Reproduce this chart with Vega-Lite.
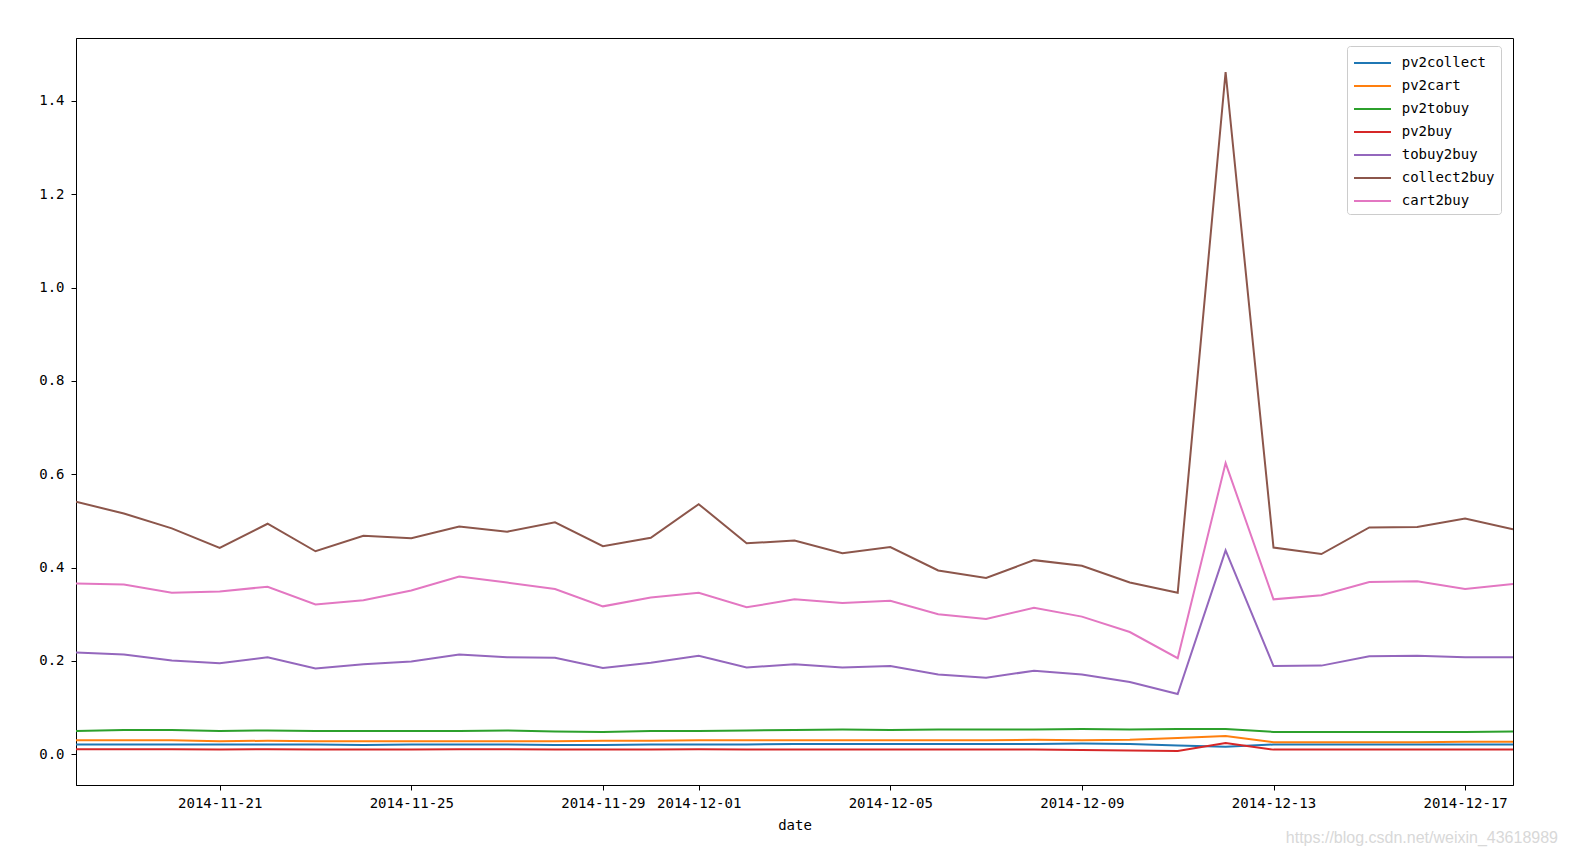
{
  "$schema": "https://vega.github.io/schema/vega-lite/v6.json",
  "width": 1437,
  "height": 747,
  "autosize": {"type": "none"},
  "padding": {"left": 76, "top": 38, "right": 65, "bottom": 71},
  "background": "white",
  "config": {
    "view": {"stroke": "#000000", "strokeWidth": 1},
    "font": "DejaVu Sans Mono"
  },
  "title": {
    "text": "https://blog.csdn.net/weixin_43618989",
    "orient": "bottom",
    "anchor": "end",
    "color": "#d8d8d8",
    "font": "Liberation Sans",
    "fontSize": 16,
    "fontWeight": "normal",
    "offset": -2,
    "dx": 45
  },
  "data": {
    "values": [
      {"date": "2014-11-18", "pv2collect": 0.021, "pv2cart": 0.030, "pv2tobuy": 0.050, "pv2buy": 0.011, "tobuy2buy": 0.218, "collect2buy": 0.541, "cart2buy": 0.366},
      {"date": "2014-11-19", "pv2collect": 0.021, "pv2cart": 0.030, "pv2tobuy": 0.052, "pv2buy": 0.011, "tobuy2buy": 0.214, "collect2buy": 0.516, "cart2buy": 0.364},
      {"date": "2014-11-20", "pv2collect": 0.021, "pv2cart": 0.030, "pv2tobuy": 0.052, "pv2buy": 0.011, "tobuy2buy": 0.201, "collect2buy": 0.484, "cart2buy": 0.346},
      {"date": "2014-11-21", "pv2collect": 0.021, "pv2cart": 0.028, "pv2tobuy": 0.050, "pv2buy": 0.010, "tobuy2buy": 0.195, "collect2buy": 0.442, "cart2buy": 0.349},
      {"date": "2014-11-22", "pv2collect": 0.021, "pv2cart": 0.029, "pv2tobuy": 0.051, "pv2buy": 0.011, "tobuy2buy": 0.208, "collect2buy": 0.494, "cart2buy": 0.359},
      {"date": "2014-11-23", "pv2collect": 0.021, "pv2cart": 0.028, "pv2tobuy": 0.050, "pv2buy": 0.010, "tobuy2buy": 0.184, "collect2buy": 0.435, "cart2buy": 0.321},
      {"date": "2014-11-24", "pv2collect": 0.020, "pv2cart": 0.028, "pv2tobuy": 0.050, "pv2buy": 0.010, "tobuy2buy": 0.193, "collect2buy": 0.468, "cart2buy": 0.330},
      {"date": "2014-11-25", "pv2collect": 0.021, "pv2cart": 0.028, "pv2tobuy": 0.050, "pv2buy": 0.010, "tobuy2buy": 0.199, "collect2buy": 0.463, "cart2buy": 0.351},
      {"date": "2014-11-26", "pv2collect": 0.021, "pv2cart": 0.028, "pv2tobuy": 0.050, "pv2buy": 0.011, "tobuy2buy": 0.214, "collect2buy": 0.488, "cart2buy": 0.381},
      {"date": "2014-11-27", "pv2collect": 0.021, "pv2cart": 0.028, "pv2tobuy": 0.051, "pv2buy": 0.011, "tobuy2buy": 0.208, "collect2buy": 0.477, "cart2buy": 0.368},
      {"date": "2014-11-28", "pv2collect": 0.020, "pv2cart": 0.028, "pv2tobuy": 0.049, "pv2buy": 0.010, "tobuy2buy": 0.207, "collect2buy": 0.497, "cart2buy": 0.354},
      {"date": "2014-11-29", "pv2collect": 0.020, "pv2cart": 0.029, "pv2tobuy": 0.048, "pv2buy": 0.010, "tobuy2buy": 0.185, "collect2buy": 0.446, "cart2buy": 0.317},
      {"date": "2014-11-30", "pv2collect": 0.021, "pv2cart": 0.029, "pv2tobuy": 0.050, "pv2buy": 0.010, "tobuy2buy": 0.196, "collect2buy": 0.464, "cart2buy": 0.336},
      {"date": "2014-12-01", "pv2collect": 0.021, "pv2cart": 0.030, "pv2tobuy": 0.050, "pv2buy": 0.011, "tobuy2buy": 0.211, "collect2buy": 0.536, "cart2buy": 0.346},
      {"date": "2014-12-02", "pv2collect": 0.021, "pv2cart": 0.030, "pv2tobuy": 0.051, "pv2buy": 0.010, "tobuy2buy": 0.186, "collect2buy": 0.452, "cart2buy": 0.315},
      {"date": "2014-12-03", "pv2collect": 0.022, "pv2cart": 0.030, "pv2tobuy": 0.052, "pv2buy": 0.010, "tobuy2buy": 0.193, "collect2buy": 0.458, "cart2buy": 0.332},
      {"date": "2014-12-04", "pv2collect": 0.022, "pv2cart": 0.030, "pv2tobuy": 0.053, "pv2buy": 0.010, "tobuy2buy": 0.186, "collect2buy": 0.431, "cart2buy": 0.324},
      {"date": "2014-12-05", "pv2collect": 0.022, "pv2cart": 0.030, "pv2tobuy": 0.052, "pv2buy": 0.010, "tobuy2buy": 0.189, "collect2buy": 0.444, "cart2buy": 0.329},
      {"date": "2014-12-06", "pv2collect": 0.022, "pv2cart": 0.030, "pv2tobuy": 0.053, "pv2buy": 0.010, "tobuy2buy": 0.171, "collect2buy": 0.394, "cart2buy": 0.300},
      {"date": "2014-12-07", "pv2collect": 0.022, "pv2cart": 0.030, "pv2tobuy": 0.053, "pv2buy": 0.010, "tobuy2buy": 0.164, "collect2buy": 0.378, "cart2buy": 0.290},
      {"date": "2014-12-08", "pv2collect": 0.022, "pv2cart": 0.031, "pv2tobuy": 0.053, "pv2buy": 0.010, "tobuy2buy": 0.179, "collect2buy": 0.416, "cart2buy": 0.314},
      {"date": "2014-12-09", "pv2collect": 0.023, "pv2cart": 0.030, "pv2tobuy": 0.054, "pv2buy": 0.009, "tobuy2buy": 0.171, "collect2buy": 0.404, "cart2buy": 0.295},
      {"date": "2014-12-10", "pv2collect": 0.022, "pv2cart": 0.031, "pv2tobuy": 0.053, "pv2buy": 0.008, "tobuy2buy": 0.155, "collect2buy": 0.368, "cart2buy": 0.262},
      {"date": "2014-12-11", "pv2collect": 0.019, "pv2cart": 0.035, "pv2tobuy": 0.054, "pv2buy": 0.007, "tobuy2buy": 0.129, "collect2buy": 0.346, "cart2buy": 0.206},
      {"date": "2014-12-12", "pv2collect": 0.016, "pv2cart": 0.039, "pv2tobuy": 0.054, "pv2buy": 0.024, "tobuy2buy": 0.437, "collect2buy": 1.462, "cart2buy": 0.624},
      {"date": "2014-12-13", "pv2collect": 0.021, "pv2cart": 0.026, "pv2tobuy": 0.048, "pv2buy": 0.010, "tobuy2buy": 0.189, "collect2buy": 0.443, "cart2buy": 0.332},
      {"date": "2014-12-14", "pv2collect": 0.021, "pv2cart": 0.026, "pv2tobuy": 0.048, "pv2buy": 0.010, "tobuy2buy": 0.190, "collect2buy": 0.429, "cart2buy": 0.341},
      {"date": "2014-12-15", "pv2collect": 0.021, "pv2cart": 0.026, "pv2tobuy": 0.048, "pv2buy": 0.010, "tobuy2buy": 0.210, "collect2buy": 0.486, "cart2buy": 0.369},
      {"date": "2014-12-16", "pv2collect": 0.021, "pv2cart": 0.026, "pv2tobuy": 0.048, "pv2buy": 0.010, "tobuy2buy": 0.211, "collect2buy": 0.487, "cart2buy": 0.371},
      {"date": "2014-12-17", "pv2collect": 0.021, "pv2cart": 0.027, "pv2tobuy": 0.048, "pv2buy": 0.010, "tobuy2buy": 0.208, "collect2buy": 0.505, "cart2buy": 0.354},
      {"date": "2014-12-18", "pv2collect": 0.021, "pv2cart": 0.027, "pv2tobuy": 0.049, "pv2buy": 0.010, "tobuy2buy": 0.208, "collect2buy": 0.482, "cart2buy": 0.365}
    ]
  },
  "transform": [
    {"fold": ["pv2collect", "pv2cart", "pv2tobuy", "pv2buy", "tobuy2buy", "collect2buy", "cart2buy"], "as": ["series", "value"]}
  ],
  "mark": {"type": "line", "strokeWidth": 2, "clip": true},
  "encoding": {
    "x": {
      "field": "date",
      "type": "temporal",
      "scale": {
        "type": "utc",
        "domain": [
          {"year": 2014, "month": 11, "date": 18, "utc": true},
          {"year": 2014, "month": 12, "date": 18, "utc": true}
        ]
      },
      "axis": {
        "values": [
          {"year": 2014, "month": 11, "date": 21, "utc": true},
          {"year": 2014, "month": 11, "date": 25, "utc": true},
          {"year": 2014, "month": 11, "date": 29, "utc": true},
          {"year": 2014, "month": 12, "date": 1, "utc": true},
          {"year": 2014, "month": 12, "date": 5, "utc": true},
          {"year": 2014, "month": 12, "date": 9, "utc": true},
          {"year": 2014, "month": 12, "date": 13, "utc": true},
          {"year": 2014, "month": 12, "date": 17, "utc": true}
        ],
        "format": "%Y-%m-%d",
        "grid": false,
        "labelFont": "DejaVu Sans Mono",
        "labelFontSize": 14,
        "labelColor": "#000000",
        "labelFlush": false,
        "labelPadding": 6,
        "tickSize": 5,
        "tickColor": "#000000",
        "domainColor": "#000000",
        "title": "date",
        "titleFont": "DejaVu Sans Mono",
        "titleFontSize": 14,
        "titleFontWeight": "normal",
        "titleColor": "#000000",
        "titlePadding": 8
      }
    },
    "y": {
      "field": "value",
      "type": "quantitative",
      "scale": {"domain": [-0.0658, 1.5348], "nice": false, "zero": false},
      "axis": {
        "values": [0, 0.2, 0.4, 0.6, 0.8, 1.0, 1.2, 1.4],
        "format": ".1f",
        "grid": false,
        "labelFont": "DejaVu Sans Mono",
        "labelFontSize": 14,
        "labelColor": "#000000",
        "labelPadding": 7,
        "tickSize": 5,
        "tickColor": "#000000",
        "domainColor": "#000000",
        "title": null
      }
    },
    "color": {
      "field": "series",
      "type": "nominal",
      "sort": ["pv2collect", "pv2cart", "pv2tobuy", "pv2buy", "tobuy2buy", "collect2buy", "cart2buy"],
      "scale": {
        "domain": ["pv2collect", "pv2cart", "pv2tobuy", "pv2buy", "tobuy2buy", "collect2buy", "cart2buy"],
        "range": ["#1f77b4", "#ff7f0e", "#2ca02c", "#d62728", "#9467bd", "#8c564b", "#e377c2"]
      },
      "legend": {
        "orient": "none",
        "legendX": 1271,
        "legendY": 8,
        "title": null,
        "symbolType": "M-1,0H2.7",
        "symbolSize": 400,
        "symbolStrokeWidth": 2,
        "labelFont": "DejaVu Sans Mono",
        "labelFontSize": 14,
        "labelColor": "#000000",
        "labelOffset": 26.7,
        "rowPadding": 5,
        "padding": 6,
        "fillColor": "#ffffff",
        "strokeColor": "#cccccc",
        "cornerRadius": 3
      }
    }
  }
}
